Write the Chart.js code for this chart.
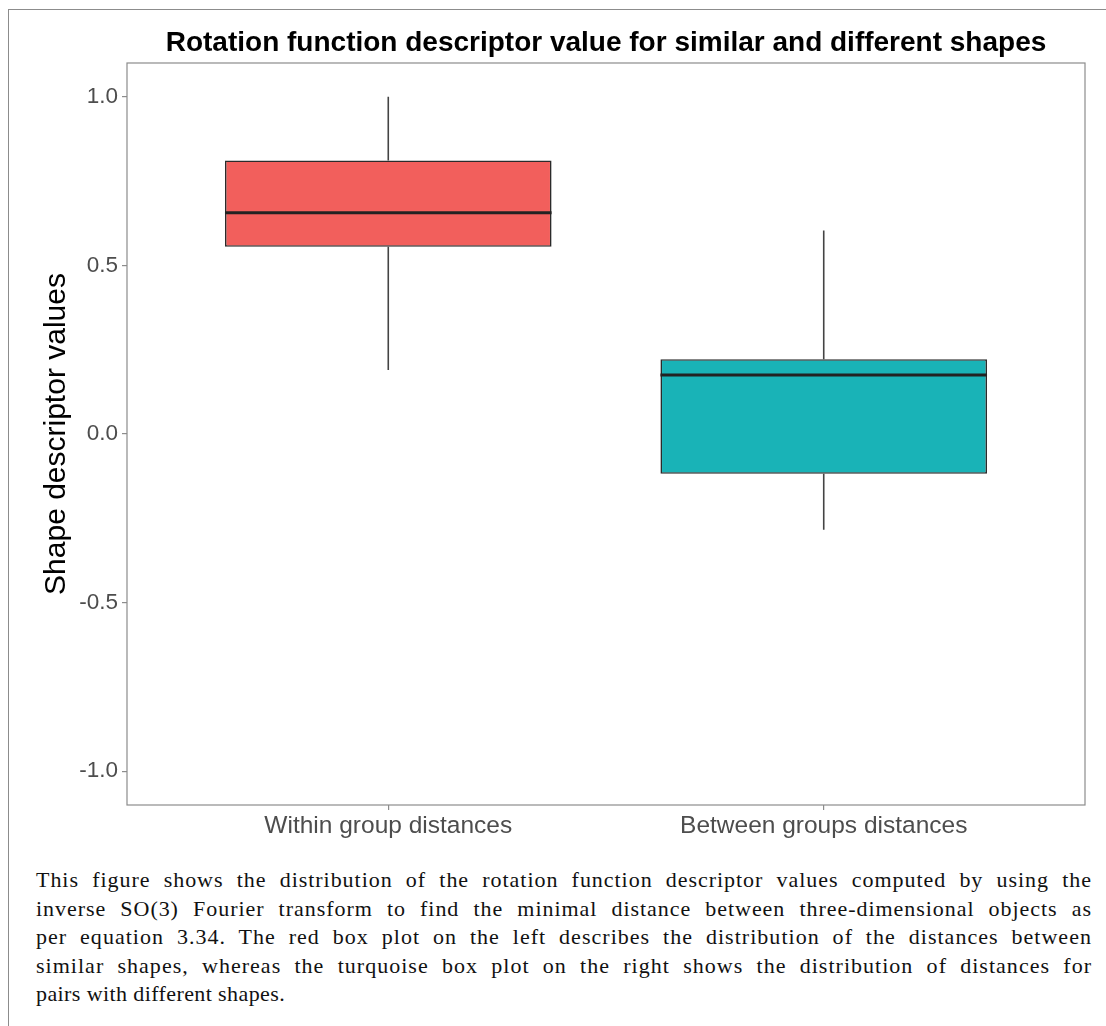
<!DOCTYPE html>
<html>
<head>
<meta charset="utf-8">
<script src="https://cdn.jsdelivr.net/npm/chart.js@4.4.1/dist/chart.umd.min.js"></script>
<style>
  html, body { margin: 0; padding: 0; background: #fff; overflow: hidden; }
  body { width: 1106px; height: 1026px; position: relative; }
  #frame {
    position: absolute; left: 8px; top: 9px; width: 1200px; height: 1100px;
    border-top: 1px solid #8c8c8c; border-left: 1px solid #8c8c8c;
  }
  #wrap { position: absolute; left: 0; top: 0; width: 1106px; height: 850px; }
  #caption {
    position: absolute; left: 36px; top: 866px; width: 1056px;
    font-family: "Liberation Serif", "DejaVu Serif", serif;
    font-size: 22px; line-height: 28.6px; color: #111;
  }
  #caption .ln { text-align: justify; text-align-last: justify; white-space: nowrap; }
  #caption .ln.last { text-align: left; text-align-last: left; }
</style>
</head>
<body>
<div id="frame"></div>
<div id="wrap"><canvas id="chart" width="1106" height="850"></canvas></div>
<div id="caption">
  <div class="ln">This figure shows the distribution of the rotation function descriptor values computed by using the</div>
  <div class="ln">inverse SO(3) Fourier transform to find the minimal distance between three-dimensional objects as</div>
  <div class="ln">per equation 3.34. The red box plot on the left describes the distribution of the distances between</div>
  <div class="ln">similar shapes, whereas the turquoise box plot on the right shows the distribution of distances for</div>
  <div class="ln last">pairs with different shapes.</div>
</div>
<script>
// Box plot summaries for each group
const categories = ["Within group distances", "Between groups distances"];
const positions  = [1, 2];
const whiskerLow = [0.19, -0.284];
const q1         = [0.555, -0.118];
const median     = [0.656, 0.175];
const q3         = [0.811, 0.222];
const whiskerHigh= [1.0, 0.603];
const boxColors  = ["#F25F5C", "#19B3B7"];
const yTicks     = [-1.0, -0.5, 0.0, 0.5, 1.0];

// Spread the caption lines evenly: part letter spacing, the rest word spacing
(function spreadCaption() {
  const lines = document.querySelectorAll("#caption .ln");
  const target = 1056;
  lines.forEach((el, idx) => {
    const span = document.createElement("span");
    span.textContent = el.textContent;
    span.style.whiteSpace = "nowrap";
    span.style.visibility = "hidden";
    span.style.position = "absolute";
    el.parentNode.appendChild(span);
    const natural = span.getBoundingClientRect().width;
    span.remove();
    const n = el.textContent.length;
    const extra = idx === lines.length - 1 ? 0.4 * n : (target - natural) * 0.5;
    el.style.letterSpacing = Math.max(0, extra / n).toFixed(3) + "px";
  });
})();

// Whiskers behind the boxes, medians and panel border on top
const boxExtras = {
  id: "boxExtras",
  beforeDatasetsDraw(chart) {
    const { ctx, scales: { x, y } } = chart;
    ctx.save();
    ctx.strokeStyle = "#444";
    ctx.lineWidth = 1.6;
    positions.forEach((p, i) => {
      const px = x.getPixelForValue(p);
      ctx.beginPath();
      ctx.moveTo(px, y.getPixelForValue(q3[i]));
      ctx.lineTo(px, y.getPixelForValue(whiskerHigh[i]));
      ctx.moveTo(px, y.getPixelForValue(q1[i]));
      ctx.lineTo(px, y.getPixelForValue(whiskerLow[i]));
      ctx.stroke();
    });
    ctx.restore();
  },
  afterDatasetsDraw(chart) {
    const { ctx, chartArea, scales: { y } } = chart;
    const meta = chart.getDatasetMeta(0);
    ctx.save();
    ctx.strokeStyle = "#222";
    ctx.lineWidth = 3;
    meta.data.forEach((bar, i) => {
      const py = y.getPixelForValue(median[i]);
      ctx.beginPath();
      ctx.moveTo(bar.x - bar.width / 2, py);
      ctx.lineTo(bar.x + bar.width / 2, py);
      ctx.stroke();
    });
    ctx.strokeStyle = "#8c8c8c";
    ctx.lineWidth = 1.2;
    ctx.strokeRect(chartArea.left, chartArea.top,
                   chartArea.right - chartArea.left, chartArea.bottom - chartArea.top);
    ctx.restore();
  }
};

new Chart(document.getElementById("chart"), {
  type: "bar",
  data: {
    datasets: [{
      data: positions.map((p, i) => ({ x: p, y: [q1[i], q3[i]] })),
      backgroundColor: boxColors,
      borderColor: "#2b2b2b",
      borderWidth: 1.6,
      borderSkipped: false,
      categoryPercentage: 1,
      barPercentage: 0.75
    }]
  },
  options: {
    responsive: false,
    animation: false,
    events: [],
    layout: { padding: { left: 0, right: 21, top: 0, bottom: 0 } },
    plugins: {
      legend: { display: false },
      tooltip: { enabled: false },
      title: {
        display: true,
        fullSize: false,
        text: "Rotation function descriptor value for similar and different shapes",
        color: "#000",
        font: { family: "Liberation Sans, Arial, sans-serif", size: 28, weight: "bold" },
        padding: { top: 26, bottom: 3.4 }
      }
    },
    scales: {
      x: {
        type: "linear",
        offset: false,
        min: 0.4, max: 2.6,
        afterBuildTicks(scale) { scale.ticks = positions.map(v => ({ value: v })); },
        afterFit(scale) { scale.height = 45; },
        ticks: {
          autoSkip: false,
          maxRotation: 0,
          padding: 2,
          color: "#4d4d4d",
          font: { family: "Liberation Sans, Arial, sans-serif", size: 24.5 },
          callback(v) { const i = positions.indexOf(v); return i >= 0 ? categories[i] : ""; }
        },
        grid: { display: true, offset: false, drawOnChartArea: false, drawTicks: true, tickLength: 5, color: "#8c8c8c", lineWidth: 1.2 },
        border: { display: false }
      },
      y: {
        min: -1.1, max: 1.1,
        afterBuildTicks(scale) { scale.ticks = yTicks.map(v => ({ value: v })); },
        afterFit(scale) { scale.width = 127; },
        ticks: {
          padding: 4,
          color: "#4d4d4d",
          font: { family: "Liberation Sans, Arial, sans-serif", size: 22.5 },
          callback(v) { return Number(v).toFixed(1); }
        },
        grid: { display: true, drawOnChartArea: false, drawTicks: true, tickLength: 5, color: "#8c8c8c", lineWidth: 1.2 },
        border: { display: false },
        title: {
          display: true,
          text: "Shape descriptor values",
          color: "#000",
          font: { family: "Liberation Sans, Arial, sans-serif", size: 30 },
          padding: { top: 39, bottom: 0 }
        }
      }
    }
  },
  plugins: [boxExtras]
});
</script>
</body>
</html>
